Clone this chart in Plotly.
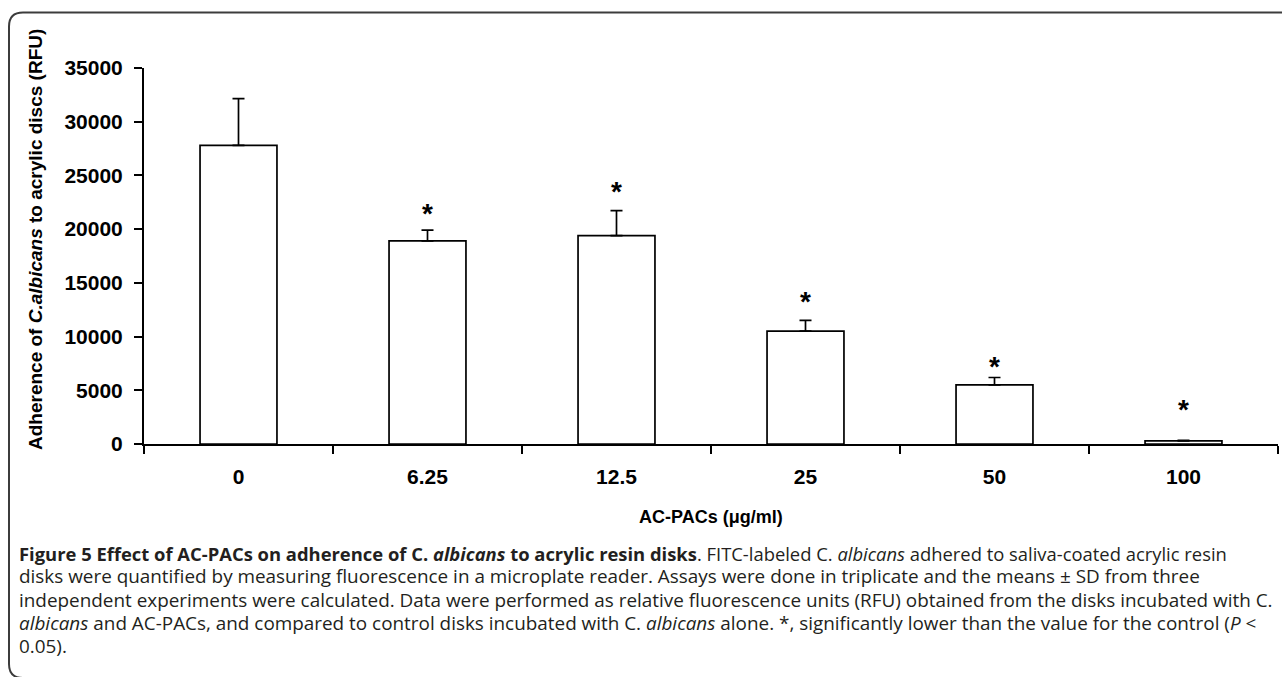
import plotly.graph_objects as go

# ---------------- data ----------------
categories = ["0", "6.25", "12.5", "25", "50", "100"]
means = [27800, 18900, 19400, 10500, 5500, 300]
sd = [4350, 1000, 2330, 1000, 690, 50]
significant = [False, True, True, True, True, True]
y_ticks = [0, 5000, 10000, 15000, 20000, 25000, 30000, 35000]

# ---------------- layout constants (pixels) ----------------
W, H = 1282, 677
L, R, T, B = 144, 4, 68, 233
PW, PH = W - L - R, H - T - B


def px(x):
    return (x - L) / PW


def py(y):
    return (T + PH - y) / PH


STAR_GAP = [0, 21, 23, 23, 15, 35]  # px gap between error cap and asterisk centre
STAR_SIZE = 28
AX_FONT = "Liberation Sans, Arial, sans-serif"
CAP_FONT = "Open Sans, Noto Sans, sans-serif"
CAP_SIZES = [18.4, 18.9, 18.9, 18.9, 18.9]

fig = go.Figure()
fig.add_trace(go.Bar(
    x=categories, y=means,
    marker=dict(color="white", line=dict(color="black", width=1.7)),
    error_y=dict(type="data", array=sd, arrayminus=[0] * len(sd), symmetric=False,
                 color="black", thickness=1.7, width=6),
    showlegend=False,
))

annotations = []
for i, c in enumerate(categories):
    if significant[i]:
        annotations.append(dict(
            x=i, y=means[i] + sd[i], xref="x", yref="y", text="<b>*</b>",
            showarrow=False, yanchor="middle", xanchor="center",
            yshift=STAR_GAP[i] - 0.14 * STAR_SIZE,
            font=dict(family=AX_FONT, size=STAR_SIZE, color="black"),
        ))

# y-axis title
annotations.append(dict(
    x=px(35), y=py(240), xref="paper", yref="paper", textangle=-90,
    text="<b>Adherence of <i>C.albicans</i> to acrylic discs (RFU)</b>",
    showarrow=False, xanchor="center", yanchor="middle",
    font=dict(family=AX_FONT, size=19, color="black"),
))
# x-axis title
annotations.append(dict(
    x=px(711), y=py(517), xref="paper", yref="paper",
    text="<b>AC-PACs (μg/ml)</b>", showarrow=False, xanchor="center", yanchor="middle",
    font=dict(family=AX_FONT, size=18, color="black"),
))

caption_lines = [
    "<b>Figure 5 Effect of AC-PACs on adherence of C. <i>albicans</i> to acrylic resin disks</b>. "
    "FITC-labeled C. <i>albicans</i> adhered to saliva-coated acrylic resin",
    "disks were quantified by measuring fluorescence in a microplate reader. Assays were done in "
    "triplicate and the means ± SD from three",
    "independent experiments were calculated. Data were performed as relative fluorescence units "
    "(RFU) obtained from the disks incubated with C.",
    "<i>albicans</i> and AC-PACs, and compared to control disks incubated with C. <i>albicans</i> "
    "alone. *, significantly lower than the value for the control (<i>P</i> &lt;",
    "0.05).",
]
for k, line in enumerate(caption_lines):
    annotations.append(dict(
        x=px(17), y=py(553 + 23.3 * k), xref="paper", yref="paper", text=line,
        showarrow=False, xanchor="left", yanchor="middle", align="left",
        font=dict(family=CAP_FONT, size=CAP_SIZES[k], color="#231f20"),
    ))

# frame with rounded left corners
x0, xr, yt, yb, r = 9, 1300, 12.5, 678, 14
path = (f"M {px(xr)} {py(yt)} L {px(x0 + r)} {py(yt)} "
        f"Q {px(x0)} {py(yt)} {px(x0)} {py(yt + r)} "
        f"L {px(x0)} {py(yb - r)} Q {px(x0)} {py(yb)} {px(x0 + r)} {py(yb)} "
        f"L {px(xr)} {py(yb)}")

fig.update_layout(
    width=W, height=H, autosize=False,
    margin=dict(l=L, r=R, t=T, b=B, pad=0),
    paper_bgcolor="white", plot_bgcolor="white",
    bargap=0.593,
    annotations=annotations,
    shapes=[dict(type="path", path=path, xref="paper", yref="paper",
                 line=dict(color="#3c3c3c", width=2))],
    xaxis=dict(
        type="category", range=[-0.5, len(categories) - 0.5],
        showline=True, linecolor="black", linewidth=2,
        ticks="outside", tickson="boundaries", ticklen=8, tickwidth=2, tickcolor="black",
        showgrid=False, zeroline=False, ticklabelstandoff=13, tickangle=0,
        tickfont=dict(family=AX_FONT, size=21, color="black", weight="bold"),
    ),
    yaxis=dict(
        range=[0, 35000], tickvals=y_ticks, ticktext=[str(v) for v in y_ticks],
        showline=True, linecolor="black", linewidth=2,
        ticks="outside", ticklen=8, tickwidth=2, tickcolor="black",
        showgrid=False, zeroline=False, ticklabelstandoff=7,
        tickfont=dict(family=AX_FONT, size=21, color="black", weight="bold"),
    ),
)

fig.write_html("out.html")
